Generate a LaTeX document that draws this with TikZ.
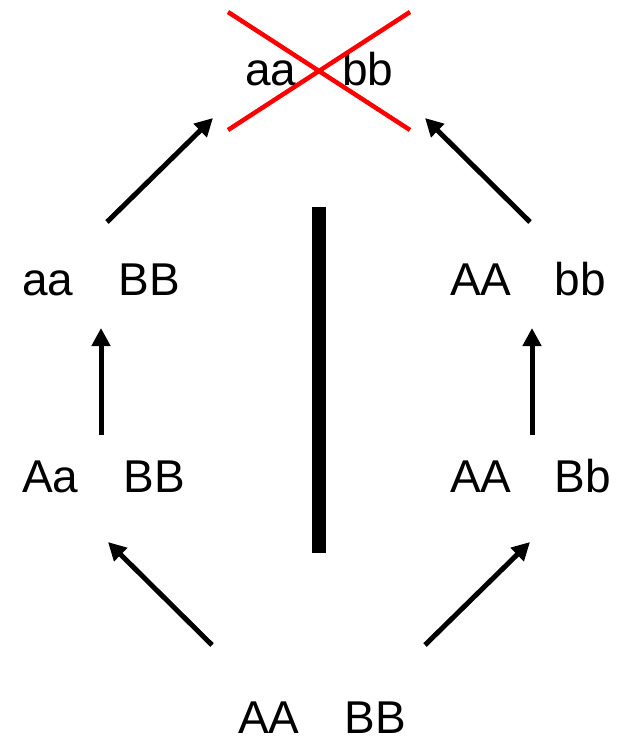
\documentclass[tikz,border=0pt]{standalone}
\usepackage{fontspec}
\setmainfont{Liberation Sans}
\usetikzlibrary{arrows.meta}
\begin{document}
\begin{tikzpicture}[x=1pt,y=-1pt,
  geno/.style={anchor=base west,inner sep=0pt,font=\fontsize{46}{50}\selectfont},
  arr/.style={line width=5pt,-{Triangle[length=18pt,width=18pt]}},
  cross/.style={line width=4.5pt,draw=red}]
\useasboundingbox (0,0) rectangle (623,736);
% genotypes
\node[geno] (top) at (245,85) {aa\hspace{46pt}bb};
\node[geno] (laBB) at (22,295) {aa\hspace{45pt}BB};
\node[geno] (rAAbb) at (450,295) {AA\hspace{43pt}bb};
\node[geno] (lAaBB) at (22,492) {Aa\hspace{45pt}BB};
\node[geno] (rAABb) at (450,492) {AA\hspace{43pt}Bb};
\node[geno] (bot) at (238,733) {AA\hspace{45pt}BB};
% arrow endpoints
\coordinate (l1s) at (212,645); \coordinate (l1e) at (108,542);
\coordinate (l2s) at (101,435); \coordinate (l2e) at (101,328);
\coordinate (l3s) at (107,222); \coordinate (l3e) at (213,118);
\coordinate (r1s) at (425,645); \coordinate (r1e) at (530,542);
\coordinate (r2s) at (532,435); \coordinate (r2e) at (532,328);
\coordinate (r3s) at (530,222); \coordinate (r3e) at (425,118);
\draw[arr] (l1s) -- (l1e);
\draw[arr] (l2s) -- (l2e);
\draw[arr] (l3s) -- (l3e);
\draw[arr] (r1s) -- (r1e);
\draw[arr] (r2s) -- (r2e);
\draw[arr] (r3s) -- (r3e);
% barrier
\fill[black] (312,207) rectangle (326,553);
% red cross
\coordinate (x1) at (228,12); \coordinate (x2) at (410,130);
\coordinate (x3) at (410,12); \coordinate (x4) at (228,130);
\draw[cross] (x1) -- (x2);
\draw[cross] (x3) -- (x4);
\end{tikzpicture}
\end{document}
